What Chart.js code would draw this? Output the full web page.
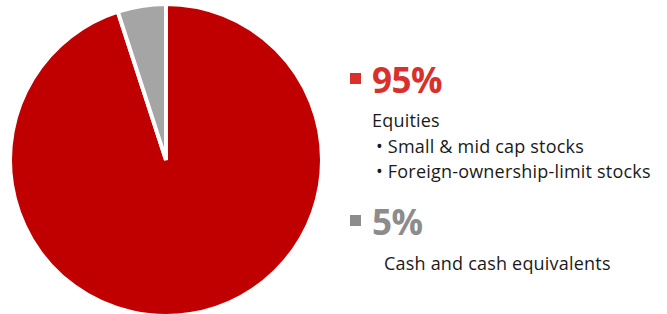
<!DOCTYPE html>
<html>
<head>
<meta charset="utf-8">
<script src="https://cdn.jsdelivr.net/npm/chart.js@4"></script>
<style>
  body { margin: 0; width: 667px; height: 314px; background: #fff; position: relative; overflow: hidden; font-family: "Open Sans", "Noto Sans", sans-serif; }
  #pieBox { position: absolute; left: 0; top: 0; width: 332px; height: 318px; }
  .item { position: absolute; left: 350px; }
  .sq { position: absolute; width: 11px; height: 11px; }
  .pct { position: absolute; left: 22px; font-weight: bold; font-size: 35px; line-height: 40px; letter-spacing: -0.5px; }
  .desc { position: absolute; color: #1a1a1a; font-size: 18px; line-height: 25.5px; letter-spacing: 0.2px; white-space: nowrap; }
</style>
</head>
<body>
<div id="pieBox"><canvas id="pieChart"></canvas></div>
<div id="legend"></div>
<script>
const categories = ['Equities', 'Cash and cash equivalents'];
const shares = [95, 5];
const sliceColors = ['#C00000', '#A5A5A5'];
const labelColors = ['#D9302C', '#8C8C8C'];
const details = [
  ['Equities', '• Small & mid cap stocks', '• Foreign-ownership-limit stocks'],
  ['Cash and cash equivalents']
];

let pieChart = new Chart(document.getElementById('pieChart'), {
  type: 'pie',
  data: {
    labels: categories,
    datasets: [{
      data: shares,
      backgroundColor: sliceColors,
      borderColor: '#ffffff',
      borderWidth: 4
    }]
  },
  options: {
    responsive: true,
    maintainAspectRatio: false,
    animation: false,
    layout: { padding: { top: 2, bottom: 0, left: 0, right: 0 } },
    plugins: {
      legend: { display: false },
      tooltip: { enabled: false }
    }
  }
});

// right-hand legend, laid out by hand
const tops = [60, 202];
const descTops = [108, 251];
const descLefts = [22, 34];
const legend = document.getElementById('legend');
categories.forEach((cat, i) => {
  const item = document.createElement('div');
  item.className = 'item';
  item.style.top = tops[i] + 'px';
  item.innerHTML = `<div class="sq" style="background:${labelColors[i]};top:13px"></div>` +
    `<div class="pct" style="color:${labelColors[i]}">${shares[i]}%</div>`;
  legend.appendChild(item);

  const d = document.createElement('div');
  d.className = 'desc';
  d.style.left = (350 + descLefts[i]) + 'px';
  d.style.top = descTops[i] + 'px';
  d.innerHTML = details[i].map(line =>
    line.startsWith('•') ? `<div style="padding-left:4px">${line}</div>` : `<div>${line}</div>`
  ).join('');
  legend.appendChild(d);
});
</script>
</body>
</html>
